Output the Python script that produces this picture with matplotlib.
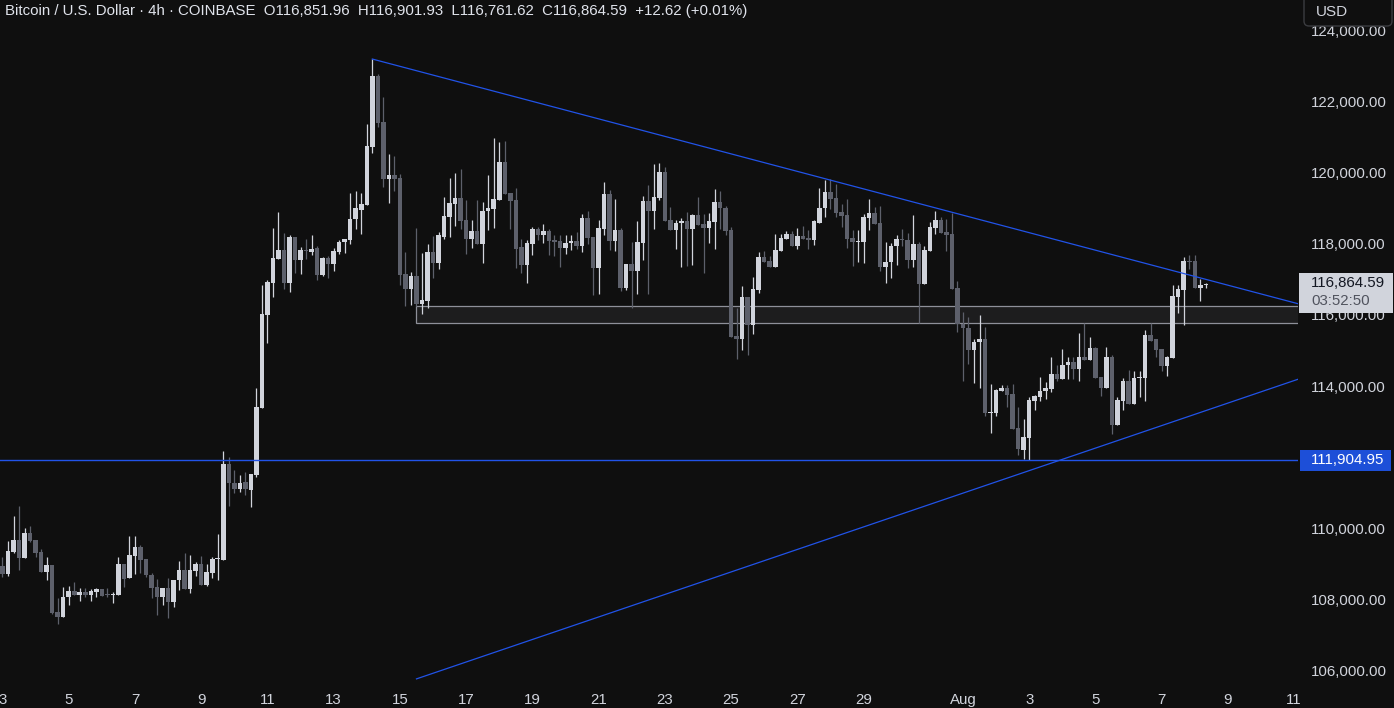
import numpy as np
import pandas as pd
import matplotlib
matplotlib.use("Agg")
import matplotlib.pyplot as plt
from matplotlib.patches import Rectangle, FancyBboxPatch
from matplotlib.transforms import blended_transform_factory

# BTC/USD 4h candles, Coinbase, from Jul 3 00:00 onward
opens = [
    108940, 108700, 109330, 109660, 109160, 109850, 109650, 109320, 108770, 108960,
    107630, 107500, 108050, 108220, 108110, 108200, 108110, 108210, 108280, 108110,
    108110, 108120, 108990, 108590, 109220, 109460, 109140, 108680, 108340, 108060,
    108320, 107920, 108530, 108820, 108280, 108800, 108990, 108390, 108730, 109120,
    109100, 111800, 111280, 111110, 111300, 111070, 111480, 113390, 116000, 116910,
    117580, 117830, 116910, 118210, 117550, 117840, 117770, 117890, 117130, 117610,
    117440, 117780, 118050, 118110, 118700, 118960, 119100, 120740, 122730, 121450,
    119840, 119930, 119860, 117160, 116740, 117100, 116320, 116400, 117780, 117470,
    118210, 118770, 119130, 119300, 118680, 118150, 118370, 118010, 118920, 118990,
    119240, 120310, 119440, 119240, 117920, 117420, 118010, 118430, 118240, 118380,
    118110, 118090, 117900, 118030, 118090, 117930, 118740, 118210, 117310, 118430,
    119410, 118090, 118400, 116770, 117430, 117250, 118040, 119200, 118940, 119300,
    120020, 118680, 118390, 118580, 118650, 118420, 118820, 118560, 118450, 118630,
    119190, 119000, 118390, 115410, 115330, 116520, 115730, 116700, 117640, 117530,
    117360, 117810, 118150, 118280, 117950, 118230, 118170, 118120, 118600, 119000,
    119470, 119300, 118900, 118820, 118170, 118050, 118070, 118740, 118870, 118590,
    117360, 117490, 117930, 118140, 118110, 117560, 118000, 116880, 117800, 118450,
    118680, 118340, 118280, 116760, 115760, 115640, 115020, 115250, 115320, 113250,
    113250, 113870, 113940, 113770, 112820, 112200, 112540, 113590, 113700, 113870,
    113920, 114350, 114210, 114590, 114680, 114490, 114820, 114740, 115080, 114260,
    113950, 114830, 112910, 113590, 114140, 113500, 114230, 114230, 115440, 115310,
    115050, 114570, 114800, 116520, 116710, 117520, 117520, 116770, 116851.96,
]
highs = [
    109170, 109630, 110330, 110610, 110000, 110050, 109650, 109400, 109180, 108960,
    108020, 108330, 108370, 108470, 108300, 108300, 108280, 108320, 108280, 108310,
    108210, 109190, 108990, 109770, 109770, 109510, 109140, 108720, 108560, 108320,
    108580, 108530, 109070, 109290, 109240, 109030, 109210, 108990, 109190, 109820,
    112170, 112010, 111620, 111490, 111580, 111520, 113940, 116850, 116990, 118450,
    118900, 118310, 118240, 118210, 117920, 118140, 118250, 117940, 117620, 117670,
    117890, 118110, 118140, 119430, 119490, 119430, 121380, 123210, 122790, 122140,
    120540, 120480, 119970, 117780, 117210, 118450, 117760, 118000, 118230, 118340,
    119320, 119860, 120000, 120110, 119240, 118680, 119240, 119180, 119940, 120990,
    120870, 120900, 119440, 119580, 118130, 118110, 118480, 118480, 118550, 118430,
    118240, 118240, 118240, 118240, 118350, 118850, 118940, 118210, 118690, 119750,
    119530, 119260, 118460, 117430, 118050, 118660, 119360, 119660, 120260, 120270,
    120160, 119030, 118680, 118720, 118900, 118850, 119320, 118850, 118870, 119540,
    119500, 119070, 118490, 116190, 116820, 116520, 117080, 117780, 117810, 117660,
    118280, 118280, 118360, 118360, 118450, 118510, 118390, 118690, 119580, 119800,
    119830, 119690, 119130, 119270, 118390, 118390, 118850, 119270, 119040, 119070,
    118060, 118030, 118250, 118420, 118310, 118820, 118060, 117940, 118620, 118930,
    118760, 118700, 118870, 116960, 116080, 115950, 115320, 116010, 115670, 114060,
    113920, 114020, 114020, 114060, 113400, 113060, 113700, 113760, 114260, 114100,
    114830, 114600, 115050, 114830, 114830, 115500, 115780, 115380, 115100, 114260,
    115110, 114880, 113700, 114230, 114450, 114430, 114430, 115580, 115770, 115310,
    115050, 114850, 116840, 116840, 117630, 117690, 117690, 117010, 116901.93,
]
lows = [
    108630, 108660, 109300, 108820, 109150, 109610, 109190, 108770, 108540, 107580,
    107300, 107500, 107840, 108110, 107950, 108070, 107950, 108070, 108090, 108050,
    107900, 108120, 108350, 108590, 108700, 108720, 108630, 108020, 107560, 107840,
    107470, 107770, 108250, 108280, 108160, 108650, 108390, 108380, 108590, 108540,
    109100, 110620, 110980, 111020, 110930, 110580, 111430, 113390, 115220, 116520,
    117580, 116740, 116660, 117190, 117160, 117580, 117700, 116990, 117100, 117040,
    117250, 117720, 117750, 118010, 118420, 118290, 119100, 120570, 121300, 119600,
    119160, 119500, 116850, 116260, 116290, 116240, 116020, 116210, 117050, 117300,
    118150, 118210, 118510, 118430, 117730, 117900, 118000, 117470, 118390, 118460,
    119240, 119410, 118430, 117330, 117190, 116910, 117700, 118100, 118040, 117700,
    117670, 117360, 117730, 117840, 117870, 117780, 118010, 116550, 116580, 118240,
    117830, 117810, 116690, 116700, 116210, 116600, 117550, 116600, 118420, 119250,
    118660, 118390, 117860, 117360, 117390, 117410, 118530, 117190, 118040, 117860,
    118430, 118240, 115390, 114760, 115000, 114880, 115470, 116630, 117490, 117360,
    117360, 117810, 118150, 117930, 117870, 118140, 117870, 117980, 118600, 118760,
    118990, 118770, 118490, 117900, 117390, 117500, 117470, 118400, 118570, 117250,
    116910, 117050, 117420, 117940, 117330, 117360, 115770, 116880, 117800, 118280,
    118300, 117810, 116740, 115530, 114150, 114630, 114090, 113950, 113160, 112690,
    113160, 113870, 113420, 112800, 112050, 111950, 111904.95, 113320, 113590, 113630,
    113840, 114150, 114210, 114210, 114210, 114150, 114740, 114740, 114230, 113730,
    113950, 112660, 112910, 113320, 113500, 113500, 113700, 113590, 115280, 114830,
    114430, 114290, 114800, 116070, 115720, 117300, 116750, 116400, 116761.62,
]
closes = [
    108700, 109350, 109660, 109160, 109850, 109630, 109300, 108770, 108960, 107610,
    107500, 108060, 108220, 108110, 108190, 108120, 108230, 108280, 108090, 108100,
    108140, 108990, 108570, 109240, 109460, 109110, 108680, 108320, 108060, 108320,
    107920, 108530, 108820, 108280, 108820, 108990, 108390, 108760, 109130, 109140,
    111800, 111280, 111110, 111280, 111090, 111520, 113400, 116030, 116930, 117610,
    117830, 116890, 118210, 117550, 117830, 117800, 117860, 117130, 117610, 117440,
    117800, 118060, 118140, 118700, 119010, 119130, 120760, 122730, 121420, 119840,
    119950, 119840, 117140, 116740, 117100, 116320, 116420, 117780, 117470, 118240,
    118790, 119160, 119300, 118660, 118150, 118370, 118010, 118930, 119010, 119270,
    120310, 119410, 119210, 117870, 117420, 118030, 118430, 118240, 118380, 118090,
    118070, 117900, 118030, 118090, 117930, 118740, 118180, 117310, 118460, 119410,
    118090, 118400, 116770, 117430, 117250, 118050, 119200, 118940, 119320, 120020,
    118660, 118390, 118580, 118650, 118420, 118820, 118540, 118450, 118650, 119190,
    119000, 118380, 115390, 115330, 116520, 115730, 116730, 117640, 117490, 117360,
    117830, 118180, 118280, 117950, 118230, 118140, 118120, 118650, 119010, 119470,
    119280, 118880, 118800, 118150, 118050, 118070, 118760, 118870, 118570, 117360,
    117490, 117940, 118140, 118110, 117560, 118000, 116880, 117830, 118480, 118680,
    118310, 118250, 116740, 115760, 115620, 115020, 115250, 115320, 113250, 113280,
    113890, 113940, 113750, 112800, 112220, 112570, 113610, 113730, 113870, 113950,
    114350, 114210, 114600, 114680, 114490, 114820, 114740, 115080, 114230, 113950,
    114830, 112910, 113610, 114140, 113500, 114230, 114250, 115440, 115280, 115020,
    114570, 114830, 116540, 116730, 117520, 117500, 116750, 116840, 116864.59,
]

START = "2025-07-03 00:00"
TICK_DATES = ["2025-07-03", "2025-07-05", "2025-07-07", "2025-07-09", "2025-07-11",
              "2025-07-13", "2025-07-15", "2025-07-17", "2025-07-19", "2025-07-21",
              "2025-07-23", "2025-07-25", "2025-07-27", "2025-07-29", "2025-08-01",
              "2025-08-03", "2025-08-05", "2025-08-07", "2025-08-09", "2025-08-11"]
TICK_LABELS = ["3", "5", "7", "9", "11", "13", "15", "17", "19", "21", "23", "25",
               "27", "29", "Aug", "3", "5", "7", "9", "11"]
PRICE_TICKS = [106000, 108000, 110000, 112000, 114000, 116000, 118000, 120000, 122000, 124000]

# drawings
SUPPORT = 111904.95
ZONE_START = "2025-07-15 12:00"
ZONE_LOW, ZONE_HIGH = 115765, 116245
UPPER_LINE = [("2025-07-14 04:00", 123210), ("2025-08-12 00:00", 116100)]
LOWER_LINE = [("2025-07-15 12:00", 105750), ("2025-08-12 00:00", 114470)]
COUNTDOWN = "03:52:50"
TITLE = ("Bitcoin / U.S. Dollar · 4h · COINBASE  O116,851.96  H116,901.93  "
         "L116,761.62  C116,864.59  +12.62 (+0.01%)")

BG = "#0f0f0f"
UP = "#d1d4dc"
DOWN = "#5d606b"
BLUE = "#2153e8"
TXT = "#d1d4dc"

W, H = 1394, 708
PLOT_W, PLOT_H = 1298, 683
Y_MIN, Y_MAX = 105634, 124873

plt.rcParams["font.family"] = ["Liberation Sans", "DejaVu Sans"]


def to_x(ts):
    return (pd.Timestamp(ts) - pd.Timestamp(START)) / pd.Timedelta(hours=4)


fig = plt.figure(figsize=(W / 100, H / 100), dpi=100, facecolor=BG)
ax = fig.add_axes([0, (H - PLOT_H) / H, PLOT_W / W, PLOT_H / H], facecolor=BG)

o, h, l, c = (np.asarray(v, dtype=float) for v in (opens, highs, lows, closes))
x = np.arange(len(c))
cols = np.where(c >= o, UP, DOWN)
px = (Y_MAX - Y_MIN) / PLOT_H  # price per pixel

ax.vlines(x, l, h, colors=cols, lw=0.9, zorder=3)
ax.bar(x, np.maximum(np.abs(c - o), px), bottom=np.minimum(o, c), width=0.82,
       color=cols, lw=0, zorder=4)

# support/resistance zone
ax.add_patch(Rectangle((to_x(ZONE_START), ZONE_LOW), 400, ZONE_HIGH - ZONE_LOW,
                       fc="#1d1d1e", ec="#8e9099", lw=0.9, zorder=2))
ax.axhline(SUPPORT, color=BLUE, lw=1.0, zorder=5)
for line in (UPPER_LINE, LOWER_LINE):
    ax.plot([to_x(p[0]) for p in line], [p[1] for p in line], color=BLUE, lw=0.9, zorder=5)

ax.set_xlim(-0.45, 234.7)
ax.set_ylim(Y_MIN, Y_MAX)
for s in ax.spines.values():
    s.set_visible(False)
ax.yaxis.tick_right()
ax.set_yticks(PRICE_TICKS)
ax.set_yticklabels([f"{v:,.2f}" for v in PRICE_TICKS])
ax.tick_params(axis="y", length=0, pad=9.5, labelsize=10.8, labelcolor=TXT)
ax.set_xticks([to_x(d) for d in TICK_DATES])
ax.set_xticklabels(TICK_LABELS)
ax.tick_params(axis="x", length=0, pad=7, labelsize=10.8, labelcolor=TXT)

# price scale labels
tr = blended_transform_factory(ax.transAxes, ax.transData)
ax.add_patch(Rectangle((1 + 2 / PLOT_W, SUPPORT - 10.5 * px), 91 / PLOT_W, 21 * px,
                       fc="#1d4fd8", lw=0, transform=tr, clip_on=False, zorder=10))
ax.text(1 + 13 / PLOT_W, SUPPORT, f"{SUPPORT:,.2f}", transform=tr, color="white",
        fontsize=10.8, va="center", ha="left", zorder=11, clip_on=False)

last = c[-1]
ax.add_patch(Rectangle((1 + 1 / PLOT_W, last - 28.7 * px), 94 / PLOT_W, 40 * px,
                       fc="#d1d4dc", lw=0, transform=tr, clip_on=False, zorder=10))
ax.text(1 + 13 / PLOT_W, last + 1.3 * px, f"{last:,.2f}", transform=tr, color="#131722",
        fontsize=10.8, va="center", ha="left", zorder=11, clip_on=False)
ax.text(1 + 13 / PLOT_W, last - 17 * px, COUNTDOWN, transform=tr, color="#50535e",
        fontsize=10.8, va="center", ha="left", zorder=11, clip_on=False)

# overlay in pixel space for header items
ov = fig.add_axes([0, 0, 1, 1], facecolor="none")
ov.set_xlim(0, W)
ov.set_ylim(H, 0)
ov.axis("off")
ov.add_patch(FancyBboxPatch((1304, -8), 88, 34, boxstyle="round,pad=0,rounding_size=5",
                            fc=BG, ec="#3b3c40", lw=1.0))
ov.text(1316, 12, "USD", color=TXT, fontsize=11, va="center", ha="left")
ov.text(5, 11, TITLE, color="#e0e3eb", fontsize=10.8, va="center", ha="left")

fig.savefig("out.png", dpi=100, facecolor=BG)
